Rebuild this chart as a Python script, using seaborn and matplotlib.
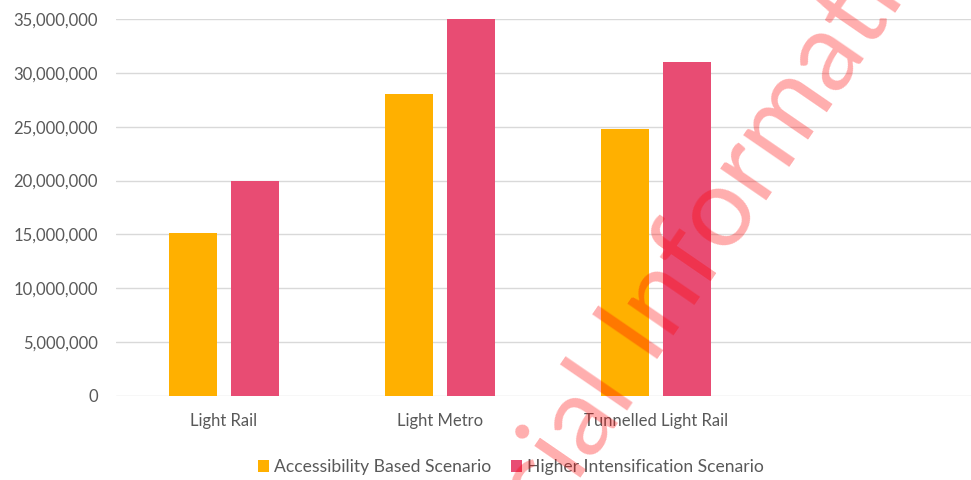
import matplotlib
matplotlib.use("Agg")
import matplotlib.pyplot as plt
import seaborn as sns
import pandas as pd
from matplotlib.ticker import FuncFormatter

categories = ["Light Rail", "Light Metro", "Tunnelled Light Rail"]
series_names = ["Accessibility Based Scenario", "Higher Intensification Scenario"]
accessibility = [15100000, 28000000, 24800000]
intensification = [20000000, 35000000, 31000000]
y_ticks = [0, 5000000, 10000000, 15000000, 20000000, 25000000, 30000000, 35000000]

rows = []
for c, a, h in zip(categories, accessibility, intensification):
    rows.append({"category": c, "scenario": series_names[0], "value": a})
    rows.append({"category": c, "scenario": series_names[1], "value": h})
df = pd.DataFrame(rows)

sns.set_theme(style="white")
plt.rcParams["font.family"] = ["Lato", "DejaVu Sans"]

W, H = 971, 480
fig = plt.figure(figsize=(W / 100, H / 100), dpi=100)
left_px, right_px, top_px, bottom_px = 116, 980, 19, 396
ax = fig.add_axes([left_px / W, 1 - bottom_px / H,
                   (right_px - left_px) / W, (bottom_px - top_px) / H])

palette = {series_names[0]: "#FFB000", series_names[1]: "#E84C73"}
sns.barplot(data=df, x="category", y="value", hue="scenario", order=categories,
            hue_order=series_names, palette=palette, width=0.574, gap=0.226,
            saturation=1, ax=ax, linewidth=0)

ax.set_xlim(-0.5, 3.5)
ax.set_ylim(0, 35000000)
ax.set_yticks(y_ticks)
ax.yaxis.set_major_formatter(FuncFormatter(lambda v, p: f"{int(v):,}"))
ax.grid(axis="y", color="#D9D9D9", linewidth=1.0)
ax.set_axisbelow(True)
for s in ax.spines.values():
    s.set_visible(False)
ax.set_xlabel("")
ax.set_ylabel("")
ax.tick_params(axis="y", length=0, pad=13, labelsize=12, labelcolor="#595959")
ax.tick_params(axis="x", length=0, pad=12, labelsize=12, labelcolor="#595959")

sns.move_legend(ax, "center", bbox_to_anchor=(511 / W, 1 - 467 / H),
                bbox_transform=fig.transFigure, ncol=2, frameon=False, title=None,
                fontsize=12.6, handlelength=0.65, handleheight=0.65,
                handletextpad=0.3, columnspacing=1.1, borderaxespad=0)
for t in ax.get_legend().get_texts():
    t.set_color("#595959")

# watermark
ax_x, ax_y = 636 / W, 1 - 390 / H
wm = dict(color="red", alpha=0.32, fontsize=80, rotation=55.5,
          rotation_mode="anchor", va="baseline", transform=fig.transFigure,
          zorder=10)
fig.text(ax_x, ax_y, "Official", ha="right", **wm)
fig.text(ax_x, ax_y, " Information Act", ha="left", **wm)

fig.savefig("out.png", dpi=100)
